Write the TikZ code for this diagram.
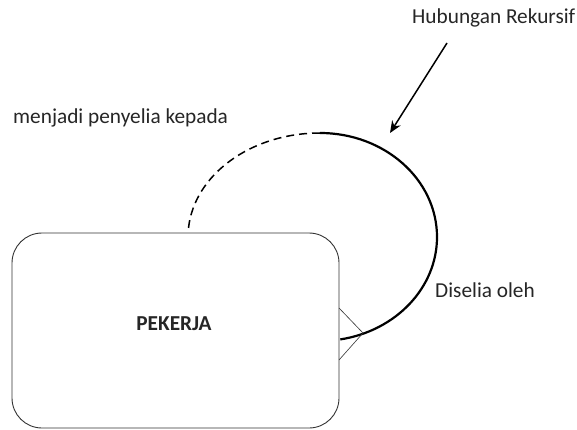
\documentclass[tikz,border=0pt]{standalone}
\usepackage{fontspec}
\setmainfont{Carlito}
\usetikzlibrary{arrows.meta}
\definecolor{txt}{HTML}{262626}
\begin{document}
\begin{tikzpicture}[x=1pt,y=-1pt,
  lbl/.style={font=\fontsize{21.3}{24}\selectfont, text=txt, inner sep=0pt},
  entity/.style={draw=black!80, line width=0.9pt, rounded corners=30pt},
  rel/.style={line width=2.2pt},
  thin/.style={line width=0.6pt, draw=black!80}]
\useasboundingbox (0,0) rectangle (577,430);
\path[entity] (12,233) rectangle (339,428);
\node[lbl, font=\fontsize{21.3}{24}\selectfont\bfseries] (pekerja) at (174,324) {PEKERJA};
% ellipse arcs
\coordinate (top) at (320,133);
\draw[rel] (top) arc[start angle=-90, end angle=80, x radius=117, y radius=104] coordinate (arcend);
\draw[rel, line width=1.5pt, dash pattern=on 8pt off 5pt] (top) arc[start angle=-90, end angle=-175, x radius=132, y radius=104] coordinate (dashend);
% crow's foot
\coordinate (cf) at (363,333);
\coordinate (cfa) at (339,308);
\coordinate (cfb) at (339,360);
\draw[thin] (cfa) -- (cf) -- (cfb);
% labels
\node[lbl, anchor=west] (hub) at (412,18) {Hubungan Rekursif};
\node[lbl, anchor=west] (menj) at (13,118) {menjadi penyelia kepada};
\node[lbl, anchor=west] (dis) at (435,290) {Diselia oleh};
\coordinate (arS) at (447,43);
\coordinate (arE) at (390,133);
\draw[line width=1.5pt, -{Stealth[length=12pt,width=10pt]}] (arS) -- (arE);
\end{tikzpicture}
\end{document}
